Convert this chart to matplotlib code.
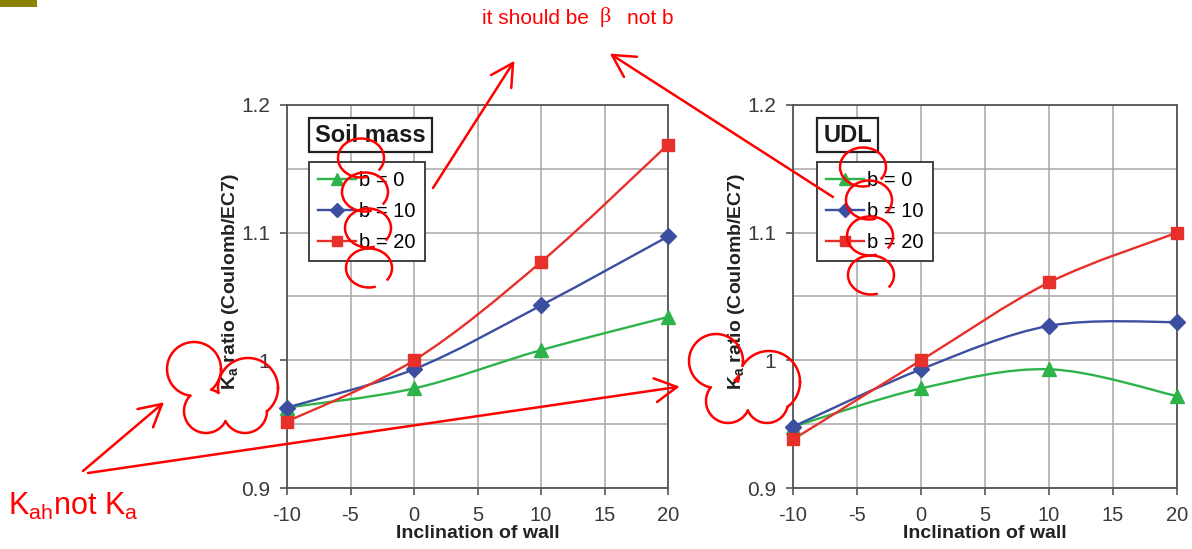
import matplotlib.pyplot as plt
import numpy as np
from matplotlib.path import Path
from matplotlib.patches import PathPatch, Arc, Rectangle
from matplotlib.lines import Line2D

plt.rcParams['font.family'] = ['Liberation Sans', 'DejaVu Sans']
plt.rcParams['mathtext.fontset'] = 'custom'
plt.rcParams['mathtext.rm'] = 'Liberation Sans'
plt.rcParams['mathtext.it'] = 'Liberation Sans:italic'
plt.rcParams['mathtext.bf'] = 'Liberation Sans:bold'
plt.rcParams['axes.unicode_minus'] = False

# data
inclination = [-10, 0, 10, 20]
series_labels = ['b = 0', 'b = 10', 'b = 20']
soil_b0 = [0.963, 0.978, 1.008, 1.034]
soil_b10 = [0.963, 0.993, 1.043, 1.097]
soil_b20 = [0.952, 1.000, 1.077, 1.169]
udl_b0 = [0.948, 0.978, 0.993, 0.972]
udl_b10 = [0.948, 0.993, 1.027, 1.030]
udl_b20 = [0.938, 1.000, 1.061, 1.100]
panel_titles = ['Soil mass', 'UDL']
xticks = [-10, -5, 0, 5, 10, 15, 20]
yticks = [0.9, 1.0, 1.1, 1.2]
ytick_labels = ['0.9', '1', '1.1', '1.2']

colors = ['#2db34a', '#3b4ea0', '#e8302a']
markers = ['^', 'D', 's']
msizes = [9.5, 8, 8]

# hand drawn red remarks (figure pixels, y downwards)
arrows = [((433, 188), (513, 63)), ((833, 197), (612, 55)),
          ((83, 471), (162, 404)), ((88, 473), (677, 387))]
loops = [(361, 158), (365, 192), (368, 228), (369, 268),
         (863, 167), (869, 200), (870, 236), (871, 275)]
clouds = [[(194, 369, 27), (248, 388, 30), (206, 411, 22), (245, 411, 22)],
          [(716, 361, 27), (769, 382, 31), (728, 401, 22), (767, 402, 21)]]


def smooth_path(x, y):
    # excel style smoothed line
    pts = np.column_stack([x, y]).astype(float)
    n = len(pts)
    verts = [pts[0]]
    codes = [Path.MOVETO]
    for i in range(n - 1):
        p0 = pts[max(i - 1, 0)]
        p1 = pts[i]
        p2 = pts[i + 1]
        p3 = pts[min(i + 2, n - 1)]
        verts += [p1 + (p2 - p0) / 6, p2 - (p3 - p1) / 6, p2]
        codes += [Path.CURVE4] * 3
    return Path(verts, codes)


fig = plt.figure(figsize=(11.92, 5.49), dpi=100)
ax1 = fig.add_axes([287 / 1192, 1 - 488 / 549, 381 / 1192, 383 / 549])
ax2 = fig.add_axes([793 / 1192, 1 - 488 / 549, 384 / 1192, 383 / 549])

panels = [(ax1, [soil_b0, soil_b10, soil_b20], panel_titles[0], (0.058, 0.877, 0.323)),
          (ax2, [udl_b0, udl_b10, udl_b20], panel_titles[1], (0.0625, 0.877, 0.159))]

for ax, series, title, box in panels:
    handles = []
    for vals, c, m, ms, lab in zip(series, colors, markers, msizes, series_labels):
        ax.add_patch(PathPatch(smooth_path(inclination, vals), fill=False,
                               edgecolor=c, lw=1.7, zorder=3))
        ax.plot(inclination, vals, ls='none', marker=m, ms=ms, color=c, zorder=4,
                clip_on=False)
        handles.append(Line2D([], [], color=c, lw=1.7, marker=m, ms=ms * 0.9))
    ax.set_xlim(-10, 20)
    ax.set_ylim(0.9, 1.2)
    ax.set_xticks(xticks)
    ax.set_yticks(yticks)
    ax.set_yticklabels(ytick_labels)
    ax.set_yticks([0.95, 1.05, 1.15], minor=True)
    ax.tick_params(which='major', direction='out', length=5, width=1.2,
                   color='#555555', labelcolor='#3a3a3a')
    ax.tick_params(axis='x', pad=8, labelsize=14.5)
    ax.tick_params(axis='y', pad=7, labelsize=15)
    ax.tick_params(which='minor', length=0)
    ax.grid(True, which='both', color='#aaa5a5', lw=1.1)
    ax.set_axisbelow(True)
    for s in ax.spines.values():
        s.set_color('#555555')
        s.set_linewidth(1.3)
    ax.set_xlabel('Inclination of wall', fontsize=14, fontweight='bold',
                  color='#222222', labelpad=0)
    ax.set_ylabel(r'$\mathbf{K_a}$ ratio (Coulomb/EC7)', fontsize=14,
                  fontweight='bold', color='#222222')
    ax.yaxis.set_label_coords(-0.12, 0.54)
    leg = ax.legend(handles, series_labels, loc='upper left',
                    bbox_to_anchor=(box[0], 0.851), borderaxespad=0,
                    fontsize=14.5, handlelength=1.9, handletextpad=0.15,
                    labelspacing=0.6, borderpad=0.45, fancybox=False,
                    framealpha=1, edgecolor='#333333')
    leg.get_frame().set_linewidth(1.3)
    ax.add_patch(Rectangle((box[0], box[1]), box[2], 0.089, transform=ax.transAxes,
                           facecolor='white', edgecolor='#222222', lw=1.6, zorder=5))
    ax.text(box[0] + box[2] / 2, box[1] + 0.0445, title, transform=ax.transAxes,
            ha='center', va='center', fontsize=17, fontweight='bold',
            color='#1a1a1a', zorder=6)

# overlay for the red remarks
ov = fig.add_axes([0, 0, 1, 1], zorder=10)
ov.set_xlim(0, 1192)
ov.set_ylim(549, 0)
ov.axis('off')
ov.patch.set_alpha(0)
red = '#ff0000'

ov.add_patch(Rectangle((0, 0), 37, 7, facecolor='#8c8200', edgecolor='none'))

for (x0, y0), (x1, y1) in arrows:
    ov.plot([x0, x1], [y0, y1], color=red, lw=1.8, solid_capstyle='round')
    ang = np.arctan2(y0 - y1, x0 - x1)
    for d in (-0.5, 0.5):
        ov.plot([x1, x1 + 25 * np.cos(ang + d)], [y1, y1 + 25 * np.sin(ang + d)],
                color=red, lw=1.8, solid_capstyle='round')

for cx, cy in loops:
    ov.add_patch(Arc((cx, cy), 46, 39, theta1=70, theta2=395, color=red, lw=1.8))

t = np.linspace(0, 2 * np.pi, 400)
for lobes in clouds:
    for i, (cx, cy, r) in enumerate(lobes):
        px = cx + r * np.cos(t)
        py = cy + r * np.sin(t)
        inside = np.zeros_like(t, dtype=bool)
        for j, (ox, oy, orr) in enumerate(lobes):
            if j != i:
                inside |= (px - ox) ** 2 + (py - oy) ** 2 < orr ** 2
        px = np.where(inside, np.nan, px)
        ov.plot(px, py, color=red, lw=1.8)

ov.text(482, 18, 'it should be', color=red, fontsize=15, va='center', ha='left')
ov.text(605, 17, '\u03b2', color=red, fontsize=16, va='center', ha='center',
        family='Liberation Serif')
ov.text(627, 18, 'not b', color=red, fontsize=15, va='center', ha='left')
ov.text(8, 506, r'K$_{\mathregular{ah}}$not K$_{\mathregular{a}}$', color=red,
        fontsize=22, va='center', ha='left')

fig.savefig('out.png', dpi=100)
